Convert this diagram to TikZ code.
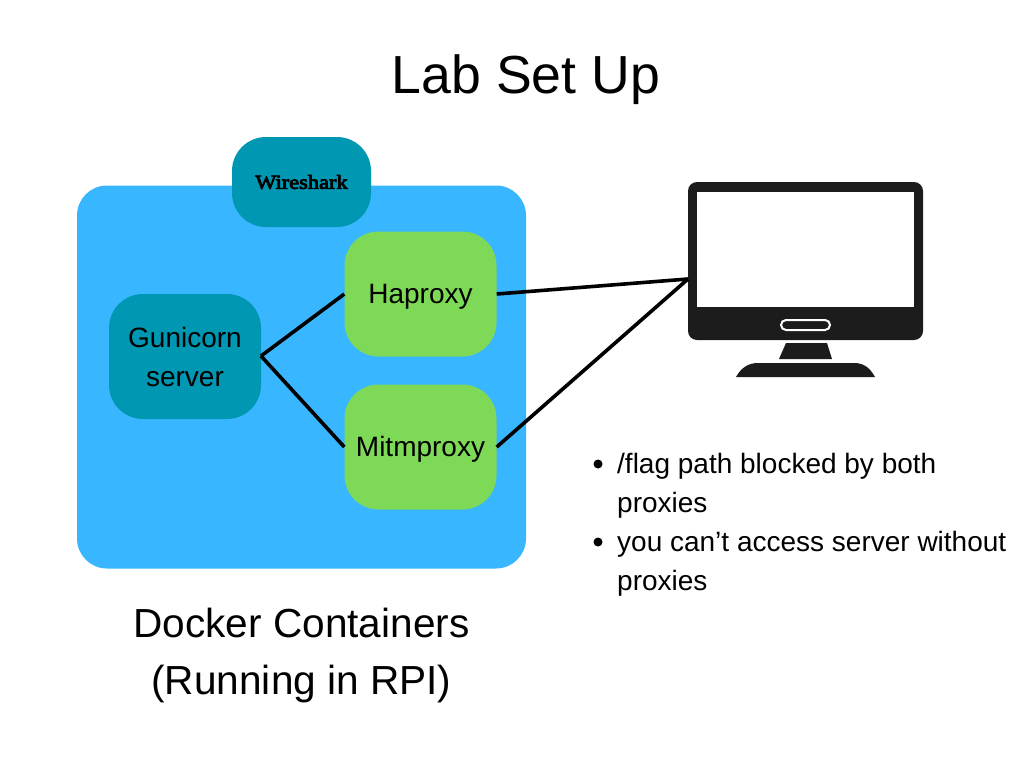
\documentclass[tikz,border=0pt]{standalone}
\usepackage{fontspec}
\setmainfont{Liberation Sans}
\newfontfamily\wsfont{Liberation Serif}[FakeStretch=1.12,FakeBold=4]
\definecolor{bluebg}{HTML}{38B6FF}
\definecolor{teal}{HTML}{0097B2}
\definecolor{lime}{HTML}{7ED957}
\definecolor{mon}{HTML}{1C1C1C}
\tikzset{
 px/.style={x=1pt,y=-1pt},
 box/.style={draw=none,rounded corners=34pt,inner sep=0pt,align=center,font=\fontsize{28}{39}\selectfont,text=black},
 link/.style={draw=black,line width=3.6pt},
 lbl/.style={inner sep=0pt,align=center,text=black},
 blt/.style={inner sep=0pt,anchor=base west,text=black,font=\fontsize{28}{39}\selectfont}
}
\begin{document}
\begin{tikzpicture}[px]
\useasboundingbox (0,0) rectangle (1024,768);
\fill[white] (0,0) rectangle (1024,768);
\node[lbl,anchor=base,font=\fontsize{53.6}{60}\selectfont] (title) at (526,93) {Lab Set Up};
\node[fill=bluebg,rounded corners=30pt,minimum width=449pt,minimum height=383pt,inner sep=0pt] (docker) at (301.5,377) {};
\node[box,fill=teal,minimum width=139pt,minimum height=90pt,font=\wsfont\fontsize{20}{24}\selectfont] (ws) at (301.5,182) {Wireshark};
\node[box,fill=teal,minimum width=152pt,minimum height=125pt] (gun) at (185,356.5) {};
\node[box,fill=lime,minimum width=152pt,minimum height=125pt] (ha) at (420.5,294) {};
\node[box,fill=lime,minimum width=152pt,minimum height=125pt] (mit) at (420.5,447) {};
\node[blt,anchor=base] (gunA) at (185,347) {Gunicorn};
\node[blt,anchor=base] (gunB) at (185,386) {server};
\node[blt,anchor=base] (haT) at (420.5,303) {Haproxy};
\node[blt,anchor=base] (mitT) at (420.5,456) {Mitmproxy};
\node[lbl,anchor=base,font=\fontsize{40.6}{41}\selectfont] (capA) at (301.5,637) {Docker Containers};
\node[lbl,anchor=base,font=\fontsize{40.6}{41}\selectfont] (capB) at (301.5,694) {(Running in RPI)};
% monitor
\fill[mon,rounded corners=9pt] (688,182) rectangle (923,340);
\fill[white] (697,192) rectangle (913.5,307);
\fill[mon] (786,343) -- (827,343) -- (832,359) -- (779,359) -- cycle;
\fill[mon] (736,377) .. controls (741,368) and (748,363) .. (758,363) -- (854,363) .. controls (864,363) and (870,368) .. (875,377) -- cycle;
\draw[white,line width=2pt,rounded corners=5pt] (781,320) rectangle (830,330);
\coordinate (pc) at (688,279);
\coordinate (gp) at (261,356);
\draw[link] (gp) -- (ha.west);
\draw[link] (gp) -- (mit.west);
\draw[link] (ha.east) -- (pc);
\draw[link] (mit.east) -- (pc);
\fill[black] (598,464) circle (4.5pt);
\fill[black] (598,542) circle (4.5pt);
\node[blt] (b1) at (617,473) {/flag path blocked by both};
\node[blt] (b2) at (617,512) {proxies};
\node[blt] (b3) at (617,551) {you can’t access server without};
\node[blt] (b4) at (617,590) {proxies};
\end{tikzpicture}
\end{document}
